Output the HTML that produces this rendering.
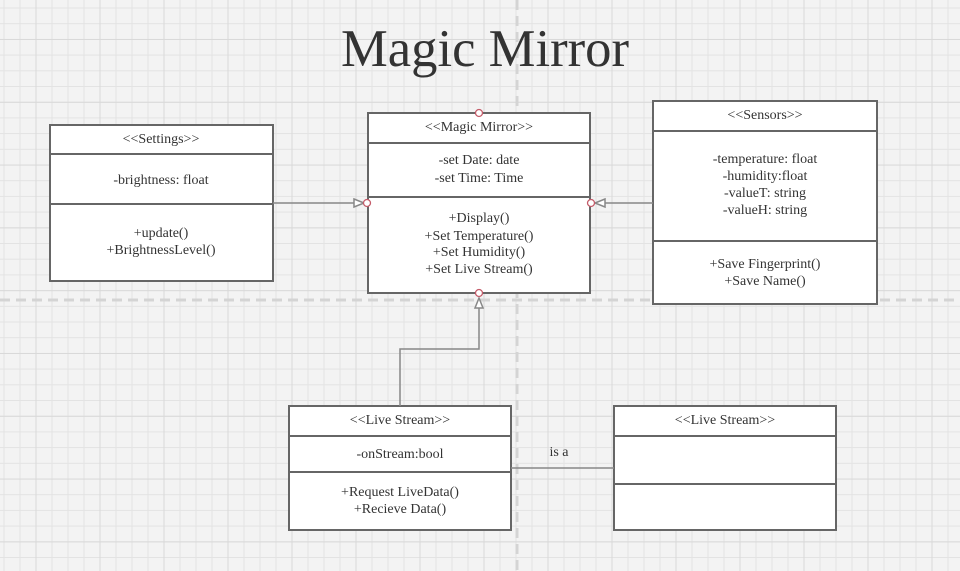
<!DOCTYPE html>
<html><head><meta charset="utf-8"><style>
html,body{margin:0;padding:0;background:#f2f2f2;width:960px;height:571px;overflow:hidden}
svg{display:block}
text{font-family:"Liberation Serif",serif;fill:#333;font-size:14px}
</style></head><body>
<svg width="960" height="571" viewBox="0 0 960 571" xmlns="http://www.w3.org/2000/svg">
<defs>
<pattern id="g" x="3.5" y="7.5" width="16" height="15.7" patternUnits="userSpaceOnUse">
<path d="M0.5 0V15.7M0 0.5H16" stroke="#e3e3e3" stroke-width="1"/>
</pattern>
<pattern id="G" x="35.5" y="39" width="64" height="62.8" patternUnits="userSpaceOnUse">
<path d="M0.5 0V62.8M0 0.5H64" stroke="#d9d9d9" stroke-width="1"/>
</pattern>
</defs>
<rect width="960" height="571" fill="#f3f3f3"/>
<rect width="960" height="571" fill="url(#g)"/>
<rect width="960" height="571" fill="url(#G)"/>
<line x1="517" y1="0" x2="517" y2="571" stroke="#d4d4d4" stroke-width="3" stroke-dasharray="10,6"/>
<line x1="0" y1="300" x2="960" y2="300" stroke="#d4d4d4" stroke-width="3" stroke-dasharray="10,6"/>

<text x="485" y="66" text-anchor="middle" style="font-size:53px;fill:#333" textLength="288" lengthAdjust="spacingAndGlyphs">Magic Mirror</text>

<g stroke="#666" stroke-width="2" fill="#fff">
<rect x="50" y="125" width="223" height="156"/>
<line x1="50" y1="154" x2="273" y2="154"/><line x1="50" y1="204" x2="273" y2="204"/>
<rect x="368" y="113" width="222" height="180"/>
<line x1="368" y1="143" x2="590" y2="143"/><line x1="368" y1="197" x2="590" y2="197"/>
<rect x="653" y="101" width="224" height="203"/>
<line x1="653" y1="131" x2="877" y2="131"/><line x1="653" y1="241" x2="877" y2="241"/>
<rect x="289" y="406" width="222" height="124"/>
<line x1="289" y1="436" x2="511" y2="436"/><line x1="289" y1="472" x2="511" y2="472"/>
<rect x="614" y="406" width="222" height="124"/>
<line x1="614" y1="436" x2="836" y2="436"/><line x1="614" y1="484" x2="836" y2="484"/>
</g>

<g stroke="#888" stroke-width="1.5" fill="none">
<line x1="273" y1="203" x2="354" y2="203"/>
<line x1="653" y1="203" x2="605" y2="203"/>
<polyline points="400,406 400,349 479,349 479,308"/>
<line x1="511" y1="468" x2="614" y2="468"/>
</g>
<g stroke="#888" stroke-width="1.5" fill="#fff">
<polygon points="354,199 364,203 354,207"/>
<polygon points="605,199 595,203 605,207"/>
<polygon points="475,308 479,298 483,308"/>
</g>
<g stroke="#c45c6a" stroke-width="1.3" fill="#fff">
<circle cx="479" cy="113" r="3.5"/>
<circle cx="367" cy="203" r="3.5"/>
<circle cx="591" cy="203" r="3.5"/>
<circle cx="479" cy="293" r="3.5"/>
</g>

<g text-anchor="middle">
<text x="161" y="143">&lt;&lt;Settings&gt;&gt;</text>
<text x="161" y="184">-brightness: float</text>
<text x="161" y="237">+update()</text>
<text x="161" y="254">+BrightnessLevel()</text>

<text x="479" y="131">&lt;&lt;Magic Mirror&gt;&gt;</text>
<text x="479" y="164">-set Date: date</text>
<text x="479" y="182">-set Time: Time</text>
<text x="479" y="222">+Display()</text>
<text x="479" y="240">+Set Temperature()</text>
<text x="479" y="256">+Set Humidity()</text>
<text x="479" y="273">+Set Live Stream()</text>

<text x="765" y="119">&lt;&lt;Sensors&gt;&gt;</text>
<text x="765" y="163">-temperature: float</text>
<text x="765" y="180">-humidity:float</text>
<text x="765" y="197">-valueT: string</text>
<text x="765" y="214">-valueH: string</text>
<text x="765" y="268">+Save Fingerprint()</text>
<text x="765" y="285">+Save Name()</text>

<text x="400" y="424">&lt;&lt;Live Stream&gt;&gt;</text>
<text x="400" y="458">-onStream:bool</text>
<text x="400" y="496">+Request LiveData()</text>
<text x="400" y="513">+Recieve Data()</text>

<text x="725" y="424">&lt;&lt;Live Stream&gt;&gt;</text>
<text x="559" y="456">is a</text>
</g>
</svg>
</body></html>
